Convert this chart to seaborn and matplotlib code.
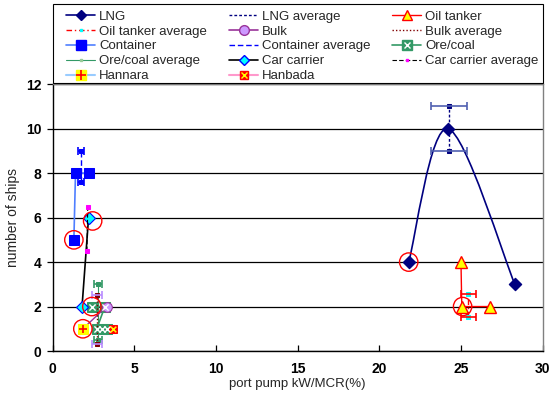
import numpy as np
import pandas as pd
import matplotlib
matplotlib.use("Agg")
import matplotlib.pyplot as plt
from matplotlib.path import Path
from matplotlib.patches import PathPatch, Rectangle
from matplotlib.lines import Line2D
import seaborn as sns

# ---- data: port pump kW/MCR (%) vs number of ships ----
lng_x = [21.8, 24.2, 28.3]
lng_y = [4, 10, 3]
lng_avg_x = [24.25, 24.25]
lng_avg_y = [9, 11]
lng_avg_err = 1.1

oil_x = [25.0, 25.05, 26.8]
oil_y = [4, 2, 2]
oil_avg_x = [25.45, 25.45]
oil_avg_y = [1.55, 2.55]
oil_avg_err = 0.45

bulk_x = [1.85, 3.3]
bulk_y = [1, 2]
bulk_avg_x = [2.7, 2.7]
bulk_avg_y = [0.3, 2.5]
bulk_avg_err = 0.3

cont_x = [2.2, 1.4, 1.3]
cont_y = [8, 8, 5]
cont_avg_x = [1.75, 1.75]
cont_avg_y = [7.6, 9.0]
cont_avg_err = 0.2

ore_x = [2.4, 3.2, 2.7, 3.0, 3.3]
ore_y = [2, 2, 1, 1, 1]
ore_avg_x = [2.8, 2.8]
ore_avg_y = [0.5, 3.0]
ore_avg_err = 0.25

car_x = [1.8, 2.2]
car_y = [2, 6]
car_avg_x = [2.1, 2.15]
car_avg_y = [4.5, 6.5]

hannara_x = [1.85]
hannara_y = [1]
hanbada_x = [3.7]
hanbada_y = [1]

highlight_x = [1.3, 2.45, 2.4, 1.85, 21.8, 25.1]
highlight_y = [5, 5.85, 2, 1, 4, 2]

x_ticks = [0, 5, 10, 15, 20, 25, 30]
y_ticks = [0, 2, 4, 6, 8, 10, 12]

# ---- style ----
sns.set_style("white")
plt.rcParams["font.family"] = ["Liberation Sans", "DejaVu Sans"]
plt.rcParams["font.size"] = 9.5

W, H = 560, 403
fig = plt.figure(figsize=(W / 100, H / 100), dpi=100)
ax = fig.add_axes([0.094, 0.129, 0.875, 0.662])


def smooth_path(xs, ys):
    """Bezier path through the points with Catmull-Rom style tangents."""
    p = np.column_stack([xs, ys]).astype(float)
    n = len(p)
    verts = [p[0]]
    codes = [Path.MOVETO]
    for i in range(n - 1):
        p_prev = p[i - 1] if i > 0 else p[i]
        p_next = p[i + 2] if i + 2 < n else p[i + 1]
        c1 = p[i] + (p[i + 1] - p_prev) / 6.0
        c2 = p[i + 1] - (p_next - p[i]) / 6.0
        verts += [c1, c2, p[i + 1]]
        codes += [Path.CURVE4] * 3
    return Path(verts, codes)


def line(x, y, **kw):
    df = pd.DataFrame({"x": x, "y": y})
    sns.lineplot(data=df, x="x", y="y", sort=False, estimator=None, ax=ax, **kw)


def avg(x, y, err, color, ls, mcolor, capcolor=None, lw=1.0):
    line(x, y, color=color, linestyle=ls, linewidth=lw, marker="s",
         markersize=2.5, markerfacecolor=mcolor, markeredgecolor=mcolor)
    if err is not None:
        ax.errorbar(x, y, xerr=err, fmt="none", ecolor=capcolor or color,
                    elinewidth=1.2, capsize=3, capthick=1.2, zorder=2)


# LNG (smoothed line)
ax.add_patch(PathPatch(smooth_path(lng_x, lng_y), facecolor="none",
                       edgecolor="#000080", linewidth=1.2, zorder=2))
ax.scatter(lng_x, lng_y, marker="D", s=38, color="#000080", zorder=4)
avg(lng_avg_x, lng_avg_y, lng_avg_err, "#000080", (0, (2, 1.5)), "#000080",
    capcolor="#5060b0")

# Oil tanker
line(oil_x, oil_y, color="#ff0000", linewidth=1.0, marker="^", markersize=8,
     markerfacecolor="#ffff00", markeredgecolor="#ff0000", markeredgewidth=1.0)
avg(oil_avg_x, oil_avg_y, oil_avg_err, "#ff0000", (0, (4, 2, 1, 2)), "#00ffff")

# Container
line(cont_x, cont_y, color="#4f7fff", linewidth=1.2, marker="s", markersize=7,
     markerfacecolor="#0000ff", markeredgecolor="#0000ff")
avg(cont_avg_x, cont_avg_y, cont_avg_err, "#0000ff", (0, (4, 2)), "#0000ff")

# Ore/coal
line(ore_x, ore_y, color="#339966", linewidth=1.2, marker="s", markersize=7,
     markerfacecolor="#339966", markeredgecolor="#339966")
ax.scatter(ore_x, ore_y, marker="x", s=20, color="white", linewidths=1.0,
           zorder=5)
avg(ore_avg_x, ore_avg_y, ore_avg_err, "#339966", "-", "#339966", lw=0.8)

# Bulk
line(bulk_x, bulk_y, color="#993399", linewidth=1.0, marker="o", markersize=7,
     markerfacecolor="#cc99ff", markeredgecolor="#993399")
avg(bulk_avg_x, bulk_avg_y, bulk_avg_err, "#800000", (0, (1, 1.5)), "#800000",
    capcolor="#b98cff")

# Car carrier
line(car_x, car_y, color="black", linewidth=1.2, marker="D", markersize=6,
     markerfacecolor="#00ffff", markeredgecolor="#0000ff", markeredgewidth=0.8)
avg(car_avg_x, car_avg_y, None, "black", (0, (4, 2)), "#ff00ff", lw=0.8)

# Hannara and Hanbada
line(hannara_x, hannara_y, color="#99ccff", marker="s", markersize=7,
     markerfacecolor="#ffff00", markeredgecolor="#ffff00")
ax.scatter(hannara_x, hannara_y, marker="+", s=30, color="#ff0000",
           linewidths=1.2, zorder=6)
line(hanbada_x, hanbada_y, color="#ff99cc", marker="s", markersize=6,
     markerfacecolor="#ff0000", markeredgecolor="#ff0000")
ax.scatter(hanbada_x, hanbada_y, marker="x", s=16, color="#ffff00",
           linewidths=1.1, zorder=6)

# highlighted ships
ax.scatter(highlight_x, highlight_y, s=175, facecolors="none",
           edgecolors="#ff0000", linewidths=1.0, zorder=7)

# ---- axes ----
ax.set_xlim(0, 30)
ax.set_ylim(0, 12)
ax.set_xticks(x_ticks)
ax.set_yticks(y_ticks)
ax.yaxis.grid(True, color="black", linewidth=0.9)
ax.xaxis.grid(False)
ax.set_axisbelow(True)
ax.set_xlabel("port pump kW/MCR(%)", fontsize=9.5, labelpad=1)
ax.set_ylabel("number of ships", fontsize=10, labelpad=4)
for s in ("left", "bottom"):
    ax.spines[s].set_color("black")
    ax.spines[s].set_linewidth(1.0)
for s in ("right", "top"):
    ax.spines[s].set_color("#808080")
    ax.spines[s].set_linewidth(1.0)
ax.tick_params(axis="x", direction="in", length=4, width=0.9, labelsize=10,
               pad=8, colors="black")
ax.tick_params(axis="y", direction="out", length=4, width=0.9, labelsize=10,
               pad=4, colors="black")
ax.tick_params(bottom=True, left=True)
for t in ax.get_xticklabels() + ax.get_yticklabels():
    t.set_fontweight("bold")

# ---- legend: three columns, filled row by row ----
def h(color, ls="-", lw=1.0, **kw):
    return Line2D([], [], color=color, linestyle=ls, linewidth=lw, **kw)

handles = [
    h("#000080", lw=1.2, marker="D", markersize=5, markerfacecolor="#000080",
      markeredgecolor="#000080"),
    h("#000080", ls=(0, (2, 1.5))),
    h("#ff0000", marker="^", markersize=7, markerfacecolor="#ffff00",
      markeredgecolor="#ff0000"),
    h("#ff0000", ls=(0, (4, 2, 1, 2)), marker="s", markersize=2,
      markerfacecolor="#00ffff", markeredgecolor="#00ffff"),
    h("#993399", lw=1.2, marker="o", markersize=7, markerfacecolor="#cc99ff",
      markeredgecolor="#993399"),
    h("#800000", ls=(0, (1, 1.5))),
    h("#4f7fff", lw=1.2, marker="s", markersize=7, markerfacecolor="#0000ff",
      markeredgecolor="#0000ff"),
    h("#0000ff", ls=(0, (4, 2))),
    (h("#339966", lw=1.2, marker="s", markersize=7, markerfacecolor="#339966",
       markeredgecolor="#339966"),
     h("none", marker="x", markersize=5, markeredgecolor="white",
       markeredgewidth=1.0)),
    h("#339966", lw=0.8, marker="s", markersize=1.5, markerfacecolor="#99cc99",
      markeredgecolor="#99cc99"),
    h("black", lw=1.2, marker="D", markersize=5, markerfacecolor="#00ffff",
      markeredgecolor="#0000ff"),
    h("black", ls=(0, (4, 2)), lw=0.8, marker="s", markersize=2,
      markerfacecolor="#ff00ff", markeredgecolor="#ff00ff"),
    (h("#99ccff", lw=1.5, marker="s", markersize=7, markerfacecolor="#ffff00",
       markeredgecolor="#ffff00"),
     h("none", marker="+", markersize=7, markeredgecolor="#ff0000",
       markeredgewidth=1.2)),
    (h("#ff99cc", lw=1.5, marker="s", markersize=6, markerfacecolor="#ff0000",
       markeredgecolor="#ff0000"),
     h("none", marker="x", markersize=4, markeredgecolor="#ffff00",
       markeredgewidth=1.0)),
]
labels = ["LNG", "LNG average", "Oil tanker", "Oil tanker average", "Bulk",
          "Bulk average", "Container", "Container average", "Ore/coal",
          "Ore/coal average", "Car carrier", "Car carrier average",
          "Hannara", "Hanbada"]

# legend frame
fig.add_artist(Rectangle((52.7 / W, 1 - 83 / H), 490 / W, 79 / H,
                         transform=fig.transFigure, facecolor="white",
                         edgecolor="black", linewidth=0.8, zorder=1))

col_x = [66, 229, 392]
for c in range(3):
    leg = fig.legend(handles[c::3], labels[c::3], loc="upper left",
                     bbox_to_anchor=(col_x[c] / W, 1 - 10.5 / H),
                     frameon=False, fontsize=9.5, labelspacing=0.2,
                     handlelength=2.2, handletextpad=0.3, borderpad=0.0,
                     borderaxespad=0.0)
    leg.set_zorder(2)

fig.savefig("out.png", dpi=100)
